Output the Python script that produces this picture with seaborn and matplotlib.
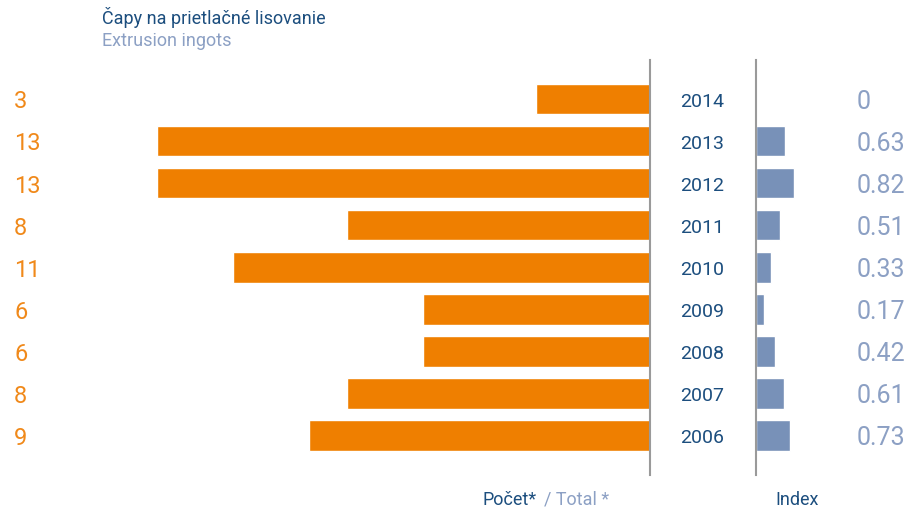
import matplotlib
matplotlib.use("Agg")
import matplotlib.pyplot as plt
import matplotlib.transforms as mtransforms
import seaborn as sns
import pandas as pd

# ============================================
# DATA
# ============================================

years = ["2014", "2013", "2012", "2011", "2010", "2009", "2008", "2007", "2006"]
totals = [3, 13, 13, 8, 11, 6, 6, 8, 9]
index_vals = [0, 0.63, 0.82, 0.51, 0.33, 0.17, 0.42, 0.61, 0.73]
index_labels = ["0", "0.63", "0.82", "0.51", "0.33", "0.17", "0.42", "0.61", "0.73"]

df = pd.DataFrame({"year": years, "total": totals, "index": index_vals})

# ============================================
# STYLE
# ============================================

sns.set_style("white")
plt.rcParams["font.family"] = ["Roboto", "DejaVu Sans"]

orange = "#EF7F00"
orange_txt = "#F0891A"
blue_bar = "#7891B8"
dark_blue = "#1C4E7E"
light_blue = "#8CA0C4"
line_gray = "#9A9A9A"

W, H = 906, 513
fig = plt.figure(figsize=(W / 100, H / 100), dpi=100)

top_px, bot_px = 60, 475
axL = fig.add_axes([0, 1 - bot_px / H, 650 / W, (bot_px - top_px) / H])
axR = fig.add_axes([756 / W, 1 - bot_px / H, 150 / W, (bot_px - top_px) / H])

# ============================================
# BARS
# ============================================

sns.barplot(data=df, x="total", y="year", order=years, orient="h",
            color=orange, saturation=1, width=0.73, ax=axL)
sns.barplot(data=df, x="index", y="year", order=years, orient="h",
            color=blue_bar, saturation=1, width=0.73, ax=axR)

axL.set_xlim(650 / 37.9, 0)
axR.set_xlim(0, 150 / 46.3)
for ax in (axL, axR):
    ax.set_ylim(8.944, -0.928)
    ax.set_xlabel("")
    ax.set_ylabel("")
    ax.set_xticks([])
    ax.set_yticks([])
    for s in ax.spines.values():
        s.set_visible(False)

axL.spines["right"].set_visible(True)
axL.spines["right"].set_color(line_gray)
axL.spines["right"].set_linewidth(1.5)
axR.spines["left"].set_visible(True)
axR.spines["left"].set_color(line_gray)
axR.spines["left"].set_linewidth(1.5)

# ============================================
# LABELS
# ============================================

trL = mtransforms.blended_transform_factory(fig.transFigure, axL.transData)
dy = 0.07  # text sits a little lower than the bar centre

for i, (yr, tot, lab) in enumerate(zip(years, totals, index_labels)):
    fig.text(14 / W, i + dy, str(tot), transform=trL, ha="left", va="center",
             fontsize=17, color=orange_txt)
    fig.text(702 / W, i + dy, yr, transform=trL, ha="center", va="center",
             fontsize=14, color=dark_blue)
    fig.text(857 / W, i + dy, lab, transform=trL, ha="left", va="center",
             fontsize=18, color=light_blue)

fig.text(102 / W, 1 - 18 / H, "Čapy na prietlačné lisovanie",
         ha="left", va="center", fontsize=13, color=dark_blue)
fig.text(102 / W, 1 - 41 / H, "Extrusion ingots",
         ha="left", va="center", fontsize=13, color=light_blue)

fig.text(483 / W, 1 - 500 / H, "Počet*", ha="left", va="center",
         fontsize=13, color=dark_blue)
fig.text(544 / W, 1 - 500 / H, "/ Total *", ha="left", va="center",
         fontsize=13, color=light_blue)
fig.text(797 / W, 1 - 500 / H, "Index", ha="center", va="center",
         fontsize=13, color=dark_blue)

plt.savefig("out.png", dpi=100)
